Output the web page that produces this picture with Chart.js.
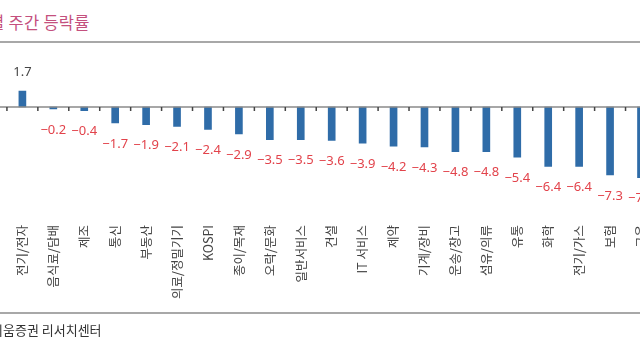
<!DOCTYPE html>
<html>
<head>
<meta charset="utf-8">
<script src="https://cdn.jsdelivr.net/npm/chart.js@4/dist/chart.umd.min.js"></script>
<style>
  html, body { margin: 0; padding: 0; background: #ffffff; }
  #wrap { position: relative; width: 640px; height: 360px; overflow: hidden; }
  #chart { position: absolute; left: -24px; top: 0; }
  .title { position: absolute; left: -42px; top: 10px; font: 16.5px "Noto Sans CJK KR", sans-serif; color: #c4507e; white-space: nowrap; letter-spacing: 0.3px; }
  .rule { position: absolute; left: 0; width: 640px; height: 2px; background: #a8a8a8; }
  .source { position: absolute; left: -9px; top: 320px; font: 13px "Noto Sans CJK KR", sans-serif; color: #333; white-space: nowrap; }
</style>
</head>
<body>
<div id="wrap">
  <div class="title">업종별 주간 등락률</div>
  <div class="rule" style="top:41px"></div>
  <canvas id="chart" width="681" height="360"></canvas>
  <div class="rule" style="top:312px"></div>
  <div class="source">키움증권 리서치센터</div>
</div>
<script>
//Sector names (left and right ends are cut off in the picture)
const sectors = ["증권", "전기/전자", "음식료/담배", "제조", "통신", "부동산", "의료/정밀기기", "KOSPI",
  "종이/목재", "오락/문화", "일반서비스", "건설", "IT 서비스", "제약", "기계/장비", "운송/창고",
  "섬유/의류", "유통", "화학", "전기/가스", "보험", "금융"];
//Weekly change, %
const weeklyChange = [1.9, 1.7, -0.2, -0.4, -1.7, -1.9, -2.1, -2.4, -2.9, -3.5, -3.5, -3.6, -3.9, -4.2,
  -4.3, -4.8, -4.8, -5.4, -6.4, -6.4, -7.3, -7.6];

const barColor = "#2f6ca8";

//zero line, small tick marks and value labels
const decorPlugin = {
  id: "decor",
  afterDatasetsDraw(chart) {
    const ctx = chart.ctx;
    const xs = chart.scales.x;
    const ys = chart.scales.y;
    const y0 = ys.getPixelForValue(0);
    const area = chart.chartArea;
    ctx.save();
    ctx.strokeStyle = "#8a8a8a";
    ctx.lineWidth = 1.5;
    ctx.beginPath();
    ctx.moveTo(area.left, y0);
    ctx.lineTo(area.right, y0);
    ctx.stroke();
    ctx.strokeStyle = "#444";
    ctx.lineWidth = 1.5;
    const half = (xs.getPixelForValue(1) - xs.getPixelForValue(0)) / 2;
    ctx.beginPath();
    for (let i = 0; i < sectors.length; i++) {
      const bx = xs.getPixelForValue(i) - half;
      ctx.moveTo(bx, y0);
      ctx.lineTo(bx, y0 + 4);
    }
    ctx.stroke();
    ctx.font = '13px "Noto Sans", sans-serif';
    ctx.textAlign = "center";
    ctx.textBaseline = "middle";
    const meta = chart.getDatasetMeta(0);
    meta.data.forEach((bar, i) => {
      const v = weeklyChange[i];
      const txt = v < 0 ? "\u2212" + Math.abs(v).toFixed(1) : v.toFixed(1);
      if (v < 0) {
        ctx.fillStyle = "#e2434b";
        ctx.fillText(txt, bar.x, bar.y + 21);
      } else {
        ctx.fillStyle = "#444";
        ctx.fillText(txt, bar.x, bar.y - 19);
      }
    });
    ctx.restore();
  }
};

new Chart(document.getElementById("chart"), {
  type: "bar",
  plugins: [decorPlugin],
  data: {
    labels: sectors,
    datasets: [{
      data: weeklyChange,
      backgroundColor: barColor,
      barThickness: 7
    }]
  },
  options: {
    responsive: false,
    animation: false,
    layout: { padding: { top: 60.5, left: 0, right: 0, bottom: 0 } },
    plugins: { legend: { display: false }, tooltip: { enabled: false } },
    scales: {
      x: {
        grid: { display: false, drawTicks: false },
        border: { display: false },
        ticks: {
          autoSkip: false,
          maxRotation: 90,
          minRotation: 90,
          padding: 1,
          color: "#444",
          font: { family: "Noto Sans CJK KR", size: 12.5 }
        },
        afterFit: (scale) => { scale.height = 136; }
      },
      y: {
        display: false,
        min: -12.58,
        max: 5
      }
    }
  }
});
</script>
</body>
</html>
